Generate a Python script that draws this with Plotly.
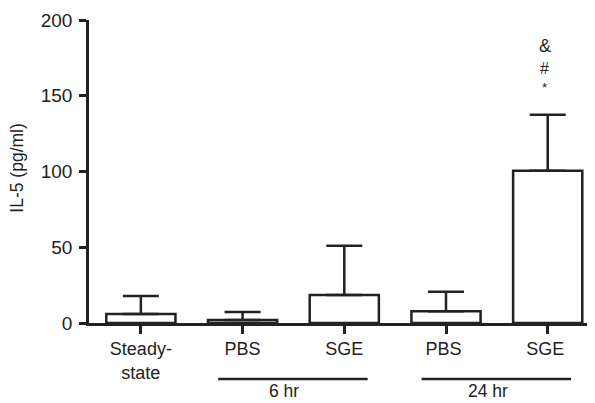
import plotly.graph_objects as go

categories = ["Steady-<br>state", "PBS", "SGE", "PBS ", "SGE "]
means = [6.0, 2.0, 18.5, 7.7, 100.5]
sem = [11.8, 5.3, 32.5, 13.0, 37.0]
y_ticks = [0, 50, 100, 150, 200]
groups = [("6 hr", 1, 2), ("24 hr", 3, 4)]
sig_marks = ["*", "#", "&"]   # above the last bar
sig_index = 4

INK = "#222222"
FONT = "Liberation Sans, Arial, Helvetica, sans-serif"

x_idx = list(range(len(categories)))

fig = go.Figure()
fig.add_trace(go.Bar(
    x=x_idx, y=means, width=0.68,
    marker=dict(color="white", line=dict(color=INK, width=2.5)),
    error_y=dict(type="data", array=sem, arrayminus=[0]*len(sem), symmetric=False,
                 color=INK, thickness=2.5, width=18),
    showlegend=False,
))

# the page body adds an 8px offset, so the figure is sized to fill the rest of the window
fig.update_layout(
    width=587, height=395,
    margin=dict(l=81, r=0, t=12, b=80),
    paper_bgcolor="white", plot_bgcolor="white",
    font=dict(family=FONT, color=INK, size=18),
    xaxis=dict(
        range=[-0.51, 4.465], tickmode="array", tickvals=x_idx, ticktext=categories,
        showline=True, linecolor=INK, linewidth=2.5,
        ticks="outside", ticklen=8, tickwidth=2.5, tickcolor=INK,
        showgrid=False, zeroline=False, tickfont=dict(size=18), automargin=False,
    ),
    yaxis=dict(
        range=[0, 200], tickmode="array", tickvals=y_ticks,
        showline=True, linecolor=INK, linewidth=2.5,
        ticks="outside", ticklen=7, tickwidth=2.5, tickcolor=INK,
        showgrid=False, zeroline=False, tickfont=dict(size=19), automargin=False,
        ticklabelstandoff=3,
    ),
)

# y-axis title
fig.add_annotation(x=-0.138, y=0.5, xref="paper", yref="paper", text="IL-5 (pg/ml)",
                   textangle=-90, showarrow=False, xanchor="center", yanchor="middle",
                   yshift=3, xshift=-3, font=dict(size=17.5))

# group lines and labels
for label, i0, i1 in groups:
    fig.add_shape(type="line", xref="x", yref="paper",
                  x0=i0 - 0.24, x1=i1 + 0.23, y0=-0.185, y1=-0.185,
                  line=dict(color=INK, width=2.5))
    fig.add_annotation(x=(i0 + i1) / 2, y=-0.2228, xref="x", yref="paper",
                       text=label, showarrow=False, yanchor="middle", borderpad=0,
                       xshift=-9, font=dict(size=17.5))

# significance marks
top = means[sig_index] + sem[sig_index]
shifts = [27, 46, 69]
sizes = [13, 16, 18]
for m, s, fs in zip(sig_marks, shifts, sizes):
    fig.add_annotation(x=sig_index, y=top, xref="x", yref="y", text=m,
                       showarrow=False, yshift=s, xshift=-3, font=dict(size=fs))

fig.write_html("out.html")
